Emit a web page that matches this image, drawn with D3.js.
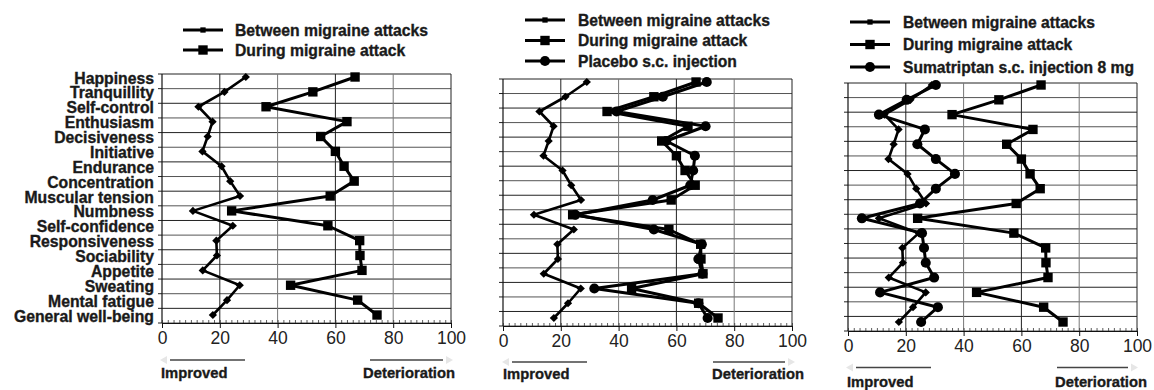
<!DOCTYPE html>
<html><head><meta charset="utf-8">
<script src="https://cdn.jsdelivr.net/npm/d3@7"></script>
<style>body{margin:0;background:#fff}svg{display:block}text{font-family:"Liberation Sans",Arial,Helvetica,sans-serif}
text.heavy{stroke:#1a1a1a;stroke-width:0.35px}</style>
</head><body><svg id="c" width="1154" height="390"></svg>
<script>
// ---------------- DATA ----------------
const categories = ["Happiness","Tranquillity","Self-control","Enthusiasm","Decisiveness","Initiative","Endurance","Concentration","Muscular tension","Numbness","Self-confidence","Responsiveness","Sociability","Appetite","Sweating","Mental fatigue","General well-being"];
const betweenAttacks = [29, 21.6, 12.6, 17.5, 15.8, 14, 20.6, 23.6, 27, 10.7, 24.5, 18.8, 19, 14.1, 26.9, 22.5, 17.6];
const duringAttack   = [66.8, 52.2, 36, 64, 54.9, 60, 63, 66.5, 58.2, 24.1, 57.4, 68.4, 68.5, 69.2, 44.5, 67.7, 74.4];
const placeboInjection = [70.5, 55.3, 39.3, 70.1, 56.5, 66.4, 65.8, 64.8, 51.8, 25, 52.2, 68.8, 67.6, 69, 31.6, 67.6, 70.8];
const sumatriptanInjection = [30.4, 20.3, 10.7, 26.6, 24, 30.4, 37, 30.4, 24.9, 4.8, 25.6, 26.3, 26.9, 29.8, 11.1, 31.1, 25.3];
const xTickValues = [0, 20, 40, 60, 80, 100];
const xMinorTicks = d3.range(0, 101, 2);
const seriesNames = {
  between: "Between migraine attacks",
  during: "During migraine attack",
  placebo: "Placebo s.c. injection",
  suma: "Sumatriptan s.c. injection 8 mg"
};
const directionLabels = ["Improved", "Deterioration"];

// ---------------- STYLE / LAYOUT ----------------
const seriesStyle = {
  between: {type: "diamond", size: 34, legendSize: 28, width: 2.6},
  during:  {type: "square",  size: 88, legendSize: 88, width: 3},
  placebo: {type: "circle",  size: 80, legendSize: 80, width: 3},
  suma:    {type: "circle",  size: 80, legendSize: 80, width: 3}
};
const panels = [
  {x0:162, x1:451, gTop:74, gBot:323, pTop:77, pBot:315,
   series:[["between",betweenAttacks],["during",duringAttack]],
   legend:{x1:183, x2:223, tx:235, rows:[30,50], w:193},
   imp:{tx:161, ty:373, l1:170, l2:245, ly:360}, det:{tx:455, l1:370, l2:443},
   labels:true},
  {x0:503, x1:792, gTop:79, gBot:326, pTop:82, pBot:318,
   series:[["between",betweenAttacks],["during",duringAttack],["placebo",placeboInjection]],
   legend:{x1:525, x2:565, tx:578, rows:[20,40.5,61], w:192},
   imp:{tx:503, ty:374, l1:512, l2:587, ly:362}, det:{tx:804, l1:713, l2:785},
   labels:false},
  {x0:848, x1:1137, gTop:83, gBot:331, pTop:85, pBot:322,
   series:[["between",betweenAttacks],["during",duringAttack],["suma",sumatriptanInjection]],
   legend:{x1:850, x2:890, tx:903, rows:[22,44.5,67], w:192},
   imp:{tx:847, ty:381.5, l1:856, l2:931, ly:367.5}, det:{tx:1147, l1:1057, l2:1128},
   labels:false}
];

const svg = d3.select("#c");

function symbolPath(type, size){
  if (type === "circle") return d3.symbol().type(d3.symbolCircle).size(size)();
  return d3.symbol().type(d3.symbolSquare).size(size)();
}
// scale a text selection's font so that a reference element reaches the target width
function fitFont(sel, refNode, target, base){
  const w = refNode.getComputedTextLength();
  const fs = w > 0 ? base * target / w : base;
  sel.attr("font-size", fs.toFixed(2) + "px");
}

panels.forEach(p => {
  const g = svg.append("g");
  const x = d3.scaleLinear().domain([0, 100]).range([p.x0, p.x1]);
  const yBand = d3.scaleBand().domain(categories).range([p.gTop, p.gBot]);
  const yPt = d3.scalePoint().domain(categories).range([p.pTop, p.pBot]);

  // horizontal gridlines
  const gridYs = categories.map(c => yBand(c)).concat([p.gBot]);
  g.selectAll(".hg").data(gridYs).join("line")
    .attr("x1", p.x0).attr("x2", p.x1)
    .attr("y1", d => d).attr("y2", d => d)
    .attr("stroke", (d, i) => i % 2 ? "#555" : "#222").attr("stroke-width", 1);
  // left ticks
  g.selectAll(".lt").data(gridYs).join("line")
    .attr("x1", p.x0 - 4).attr("x2", p.x0)
    .attr("y1", d => d).attr("y2", d => d)
    .attr("stroke", "#222");
  // vertical gridlines
  g.selectAll(".vg").data(xTickValues.slice(1)).join("line")
    .attr("x1", d => x(d)).attr("x2", d => x(d))
    .attr("y1", p.gTop).attr("y2", p.gBot)
    .attr("stroke", (d, i) => i % 2 ? "#777" : "#222").attr("stroke-width", 1);
  // y axis line
  g.append("line").attr("x1", p.x0).attr("x2", p.x0).attr("y1", p.gTop).attr("y2", p.gBot)
    .attr("stroke", "#111").attr("stroke-width", 1.2);

  // x axis
  const ax = g.append("g").attr("transform", `translate(0,${p.gBot})`)
    .call(d3.axisBottom(x).tickValues(xTickValues).tickSize(5).tickPadding(4).tickFormat(d3.format("d")));
  ax.select(".domain").attr("stroke", "#111");
  ax.selectAll(".tick line").attr("stroke", "#111");
  ax.selectAll("text").attr("font-size", "17.5px").attr("fill", "#222")
    .style("font-family", '"Liberation Sans",Arial,sans-serif');
  const minor = g.append("g").attr("transform", `translate(0,${p.gBot})`)
    .call(d3.axisBottom(x).tickValues(xMinorTicks).tickSize(-3).tickFormat(""));
  minor.select(".domain").remove();
  minor.selectAll(".tick line").attr("stroke", "#333").attr("stroke-width", 0.8);

  // category labels
  if (p.labels) {
    const cl = g.selectAll(".cl").data(categories).join("text")
      .attr("class", "heavy")
      .attr("x", 154).attr("y", d => yPt(d) + 1)
      .attr("text-anchor", "end").attr("dominant-baseline", "central")
      .attr("font-size", "15.6px").attr("font-weight", "bold").attr("fill", "#1a1a1a")
      .text(d => d);
    fitFont(cl, cl.nodes()[categories.length - 1], 140, 15.6);
  }

  // series
  p.series.forEach(([key, vals]) => {
    const st = seriesStyle[key];
    const pts = categories.map((c, i) => [x(vals[i]), yPt(c)]);
    g.append("path").attr("d", d3.line()(pts))
      .attr("fill", "none").attr("stroke", "#000").attr("stroke-width", st.width)
      .attr("stroke-linejoin", "round");
    g.selectAll(".m-" + key).data(pts).join("path")
      .attr("d", symbolPath(st.type, st.size))
      .attr("transform", d => `translate(${d[0]},${d[1]})` + (st.type === "diamond" ? " rotate(45)" : ""))
      .attr("fill", "#000");
  });

  // legend
  const legTexts = [];
  p.series.forEach(([key], i) => {
    const st = seriesStyle[key];
    const ly = p.legend.rows[i];
    g.append("line").attr("x1", p.legend.x1).attr("x2", p.legend.x2).attr("y1", ly).attr("y2", ly)
      .attr("stroke", "#000").attr("stroke-width", 3);
    g.append("path").attr("d", symbolPath(st.type === "diamond" ? "square" : st.type, st.legendSize))
      .attr("transform", `translate(${(p.legend.x1 + p.legend.x2) / 2},${ly})`).attr("fill", "#000");
    legTexts.push(g.append("text").attr("class", "heavy").attr("x", p.legend.tx).attr("y", ly)
      .attr("dominant-baseline", "central")
      .attr("font-size", "15.6px").attr("font-weight", "bold").attr("fill", "#1a1a1a")
      .text(seriesNames[key]).node());
  });
  fitFont(d3.selectAll(legTexts), legTexts[0], p.legend.w, 15.6);

  // direction labels
  g.append("line").attr("x1", p.imp.l1).attr("x2", p.imp.l2).attr("y1", p.imp.ly).attr("y2", p.imp.ly)
    .attr("stroke", "#444").attr("stroke-width", 1.5);
  g.append("line").attr("x1", p.det.l1).attr("x2", p.det.l2).attr("y1", p.imp.ly).attr("y2", p.imp.ly)
    .attr("stroke", "#444").attr("stroke-width", 1.5);
  g.append("path").attr("d", `M${p.imp.l1 - 10},${p.imp.ly} l7,-4 l0,8 z`).attr("fill", "#e6e6e6");
  g.append("path").attr("d", `M${p.det.l2 + 10},${p.imp.ly} l-7,-4 l0,8 z`).attr("fill", "#e6e6e6");
  const t1 = g.append("text").attr("class", "heavy").attr("x", p.imp.tx).attr("y", p.imp.ty).attr("dominant-baseline", "central")
    .attr("font-size", "15px").attr("font-weight", "bold").attr("fill", "#1a1a1a").text(directionLabels[0]);
  const t2 = g.append("text").attr("class", "heavy").attr("x", p.det.tx).attr("y", p.imp.ty).attr("dominant-baseline", "central")
    .attr("text-anchor", "end")
    .attr("font-size", "15px").attr("font-weight", "bold").attr("fill", "#1a1a1a").text(directionLabels[1]);
  fitFont(d3.selectAll([t1.node(), t2.node()]), t2.node(), 92, 15);
});
</script></body></html>
